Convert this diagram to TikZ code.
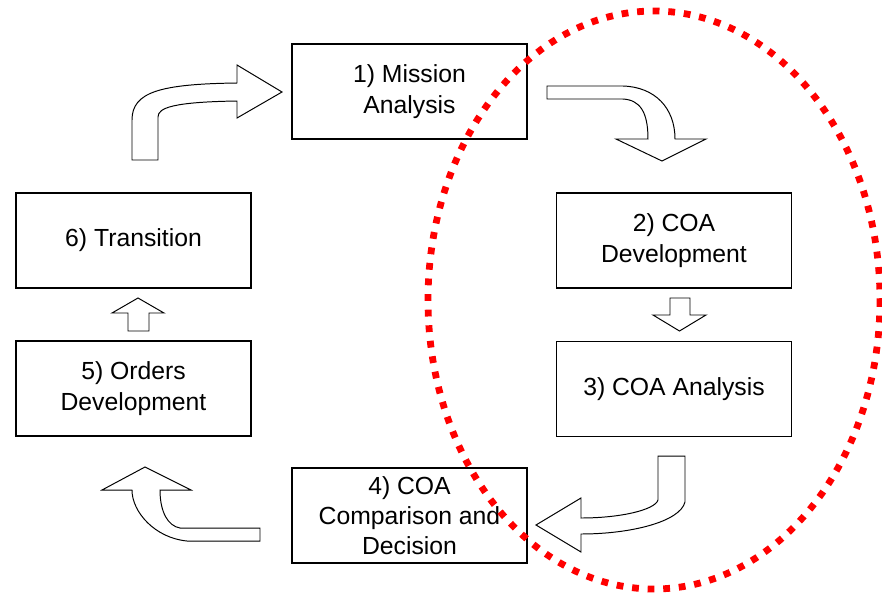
\documentclass[tikz,border=0pt]{standalone}
\usepackage{fontspec}
\setmainfont{Liberation Sans}
\usepackage{tikz}
\usetikzlibrary{positioning}

\begin{document}
\begin{tikzpicture}[
  x=0.25mm,
  y=-0.25mm,
  mybox/.style={
    draw,
    line width=1pt,
    inner sep=1pt,
    minimum width=58.75mm,
    minimum height=23.75mm,
    align=center,
    font=\fontsize{17.6}{21.5}\selectfont
  },
  myarrow/.style={
    draw,
    fill=white,
    line width=0.7pt
  },
  myring/.style={
    draw=red,
    line width=1.7mm,
    dash pattern=on 1.7mm off 2.2mm
  }
]
\useasboundingbox (0,0) rectangle (882,594);

\node [mybox] (mission) at (409.5,91.5) {1) Mission\\Analysis};
\node [mybox] (coadev) at (674,240.5) {2) COA\\Development};
\node [mybox] (coaana) at (674,389) {3) COA Analysis};
\node [mybox] (coacmp) at (409.5,515.5) {4) COA\\Comparison and\\Decision};
\node [mybox] (orders) at (133.5,388.5) {5) Orders\\Development};
\node [mybox] (trans) at (133.5,240.5) {6) Transition};

% 6 -> 1
\draw [myarrow] (132,160) -- (132,120)
  .. controls (132,92) and (160,84) .. (237,83)
  -- (237,65) -- (282,92) -- (237,118) -- (237,101)
  .. controls (172,102) and (158,108) .. (158,117)
  -- (158,160) -- cycle;
% 1 -> 2
\draw [myarrow] (547,86) -- (623,86)
  .. controls (655,87) and (675,108) .. (675,139)
  -- (706,139) -- (662,161) -- (616,139) -- (648,139)
  .. controls (648,112) and (640,100) .. (623,99)
  -- (547,99) -- cycle;
% 2 -> 3
\draw [myarrow] (670,298) -- (690,298) -- (690,315) -- (706,315)
  -- (679.5,331) -- (653,315) -- (670,315) -- cycle;
% 3 -> 4
\draw [myarrow] (658,456) -- (685,456) -- (685,502)
  .. controls (680,522) and (630,534) .. (581,534)
  -- (581,552) -- (536,525) -- (581,498) -- (581,518)
  .. controls (620,518) and (655,510) .. (658,500)
  -- cycle;
% 4 -> 5
\draw [myarrow] (260,528) -- (180,528)
  .. controls (168,526) and (160,512) .. (160,490)
  -- (191,490) -- (145,467) -- (102,490) -- (132,490)
  .. controls (132,512) and (155,538) .. (187,541)
  -- (260,541) -- cycle;
% 5 -> 6
\draw [myarrow] (128,331) -- (128,313) -- (112,313) -- (138,298)
  -- (164,313) -- (149,313) -- (149,331) -- cycle;

\draw [myring] (654,300) ellipse [x radius=226, y radius=289];

\end{tikzpicture}
\end{document}
